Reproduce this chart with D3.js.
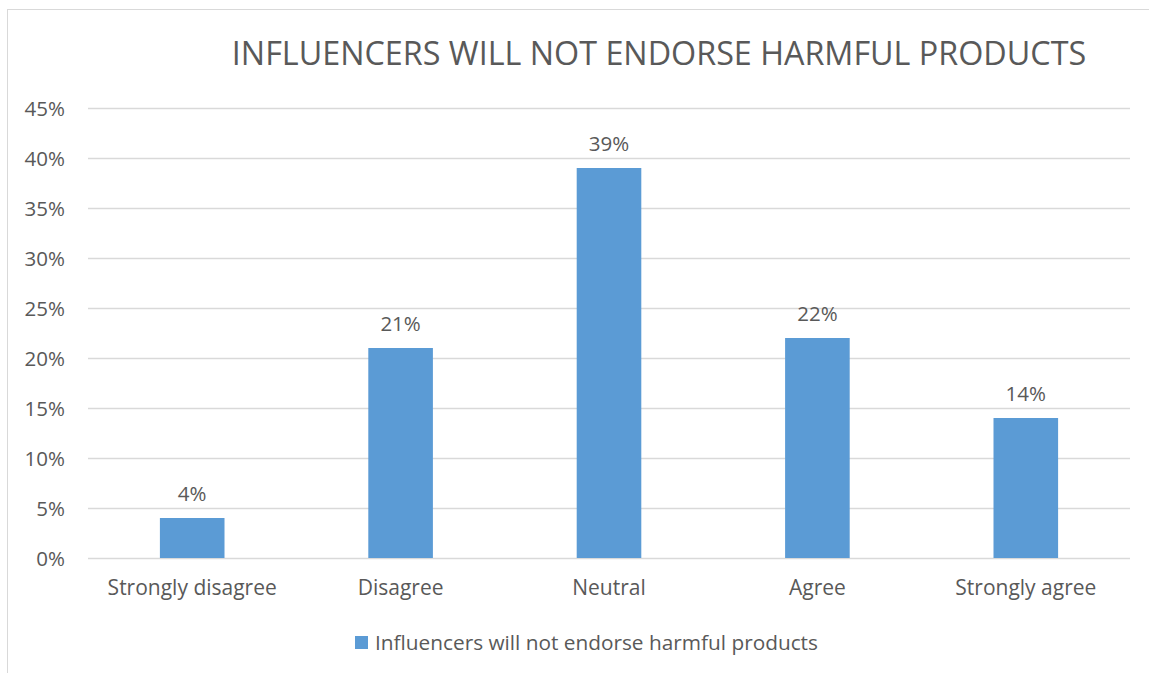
<!DOCTYPE html>
<html>
<head>
<meta charset="utf-8">
<script src="https://cdn.jsdelivr.net/npm/d3@7"></script>
<style>
  body { margin: 0; background: #fff; }
  svg text { font-family: "Open Sans", "Noto Sans", sans-serif; fill: #595959; }
</style>
</head>
<body>
<div id="chart"></div>
<script>
var categories = ["Strongly disagree", "Disagree", "Neutral", "Agree", "Strongly agree"];
var values = [0.04, 0.21, 0.39, 0.22, 0.14];
var yTicks = [0, 0.05, 0.10, 0.15, 0.20, 0.25, 0.30, 0.35, 0.40, 0.45];
var chartTitle = "INFLUENCERS WILL NOT ENDORSE HARMFUL PRODUCTS";
var seriesName = "Influencers will not endorse harmful products";

var W = 1149, H = 673;
var margin = { top: 108, right: 19, bottom: 115, left: 88 };
var width = W - margin.left - margin.right,
    height = H - margin.top - margin.bottom;

var svg = d3.select("#chart").append("svg")
  .attr("width", W)
  .attr("height", H);

// chart frame (only left and top edges show in the picture)
svg.append("rect")
  .attr("x", 7.5).attr("y", 9.5)
  .attr("width", W + 20).attr("height", H + 20)
  .attr("fill", "none")
  .attr("stroke", "#d9d9d9")
  .attr("stroke-width", 1);

var g = svg.append("g")
  .attr("transform", "translate(" + margin.left + "," + margin.top + ")");

var x = d3.scaleBand()
  .domain(categories)
  .range([0, width])
  .paddingInner(0.69)
  .paddingOuter(0.345);

var y = d3.scaleLinear()
  .domain([0, 0.45])
  .range([height, 0]);

// gridlines + y labels
var yAxis = d3.axisLeft(y)
  .tickValues(yTicks)
  .tickSize(-width)
  .tickPadding(23)
  .tickFormat(d3.format(".0%"));

g.append("g")
  .attr("class", "y axis")
  .call(yAxis)
  .call(function(s) {
    s.select(".domain").remove();
    s.selectAll(".tick line").attr("stroke", "#d9d9d9").attr("stroke-width", 1.5);
    s.selectAll(".tick text").style("font-size", "20.5px").attr("dy", "0.36em");
  });

// x labels
var xAxis = d3.axisBottom(x).tickSize(0).tickPadding(22);
g.append("g")
  .attr("class", "x axis")
  .attr("transform", "translate(0," + height + ")")
  .call(xAxis)
  .call(function(s) {
    s.select(".domain").remove();
    s.selectAll(".tick text").style("font-size", "21px");
  });

// bars
g.selectAll(".bar")
  .data(values)
  .enter().append("rect")
  .attr("class", "bar")
  .attr("x", function(d, i) { return x(categories[i]); })
  .attr("y", function(d) { return y(d); })
  .attr("width", x.bandwidth())
  .attr("height", function(d) { return height - y(d); })
  .attr("fill", "#5b9bd5");

// data labels
g.selectAll(".label")
  .data(values)
  .enter().append("text")
  .attr("class", "label")
  .attr("x", function(d, i) { return x(categories[i]) + x.bandwidth() / 2; })
  .attr("y", function(d) { return y(d) - 17; })
  .attr("text-anchor", "middle")
  .style("font-size", "20.5px")
  .text(d3.format(".0%"));

// title
svg.append("text")
  .attr("x", 659)
  .attr("y", 65)
  .attr("text-anchor", "middle")
  .style("font-size", "32.3px")
  .text(chartTitle);

// legend
var legend = svg.append("g").attr("transform", "translate(355,636)");
legend.append("rect")
  .attr("width", 13).attr("height", 13)
  .attr("fill", "#5b9bd5");
legend.append("text")
  .attr("x", 20)
  .attr("y", 6.5)
  .attr("dy", "0.36em")
  .style("font-size", "20.8px")
  .text(seriesName);
</script>
</body>
</html>
